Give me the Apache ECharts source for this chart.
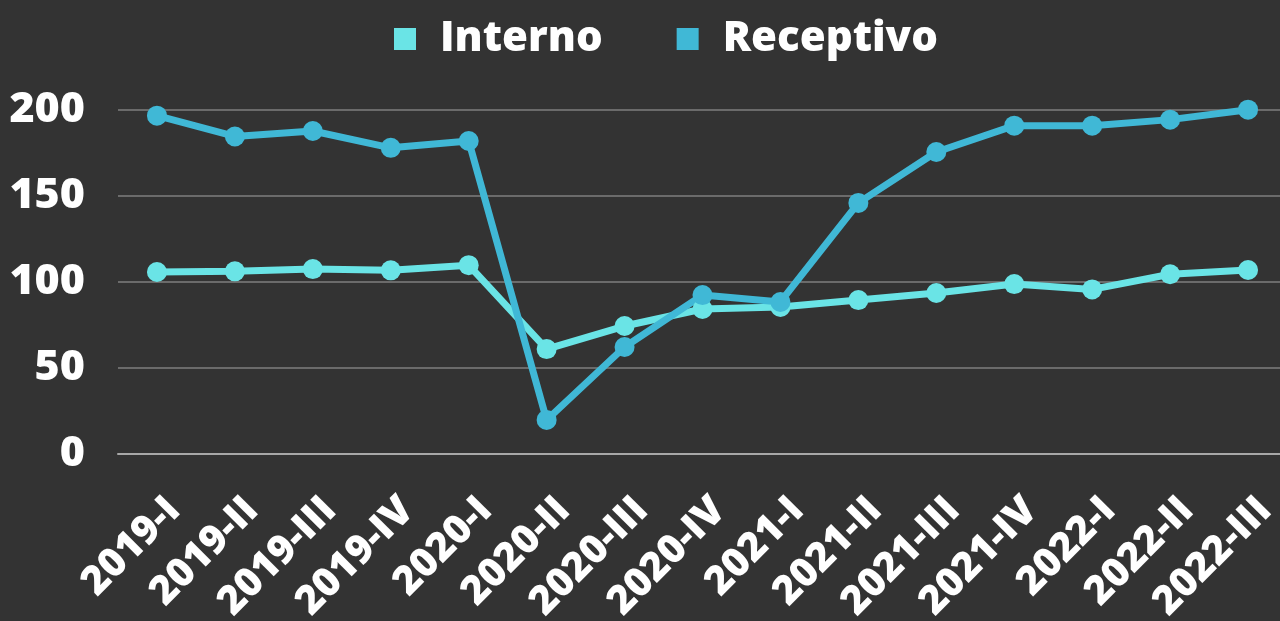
<!DOCTYPE html>
<html>
<head>
<meta charset="utf-8">
<script src="https://cdn.jsdelivr.net/npm/echarts@6/dist/echarts.min.js"></script>
<style>
  html, body { margin: 0; padding: 0; background: #333333; }
  #chart { width: 1280px; height: 621px; }
</style>
</head>
<body>
<div id="chart"></div>
<script>
const quarters = ['2019-I', '2019-II', '2019-III', '2019-IV', '2020-I', '2020-II', '2020-III', '2020-IV',
  '2021-I', '2021-II', '2021-III', '2021-IV', '2022-I', '2022-II', '2022-III']
const interno = [105.8, 106.2, 107.5, 106.8, 109.8, 61, 74.4, 84.3, 85.5, 89.5, 93.6, 98.8, 95.7, 104.5, 107]
const receptivo = [196.7, 184.6, 187.8, 178, 182, 19.8, 62.2, 92.4, 88.4, 146, 175.6, 190.9, 190.9, 194.4, 200.2]

const font = 'Open Sans'
// quarter index -> x; labels nudged a bit right of each point, like the original
const labelShift = 0.22
const labelPos = quarters.map((q, i) => i + labelShift)

const chart = echarts.init(document.getElementById('chart'), null, { renderer: 'canvas' })

chart.setOption({
  backgroundColor: '#333333',
  animation: false,
  legend: {
    top: 13,
    left: 389,
    itemWidth: 22,
    itemHeight: 22,
    itemGap: 74,
    icon: 'rect',
    textStyle: { color: '#ffffff', fontFamily: font, fontWeight: 800, fontSize: 42, padding: [0, 0, 0, 19] },
    data: ['Interno', 'Receptivo']
  },
  grid: { left: 118, right: 0, top: 110, bottom: 167, outerBoundsMode: 'none' },
  xAxis: {
    type: 'value',
    min: -0.5,
    max: 14.41,
    splitLine: { show: false },
    axisLine: { show: true, onZero: false, lineStyle: { color: '#a8a8a8', width: 2 } },
    axisTick: { show: false },
    axisLabel: {
      customValues: labelPos,
      formatter: (v) => quarters[Math.round(v - labelShift)],
      color: '#ffffff', fontFamily: font, fontWeight: 800, fontSize: 40,
      rotate: 45, margin: 50
    }
  },
  yAxis: {
    type: 'value',
    min: 0,
    max: 200,
    interval: 50,
    axisLine: { show: false },
    axisTick: { show: false },
    splitLine: { lineStyle: { color: '#6b6b6b', width: 2 } },
    axisLabel: { color: '#ffffff', fontFamily: font, fontWeight: 800, fontSize: 43, margin: 33 }
  },
  series: [
    {
      name: 'Interno', type: 'line', data: interno.map((v, i) => [i, v]),
      color: '#6ae4e6', clip: false,
      symbol: 'circle', symbolSize: 20,
      lineStyle: { width: 7 }
    },
    {
      name: 'Receptivo', type: 'line', data: receptivo.map((v, i) => [i, v]),
      color: '#40b8d6', clip: false,
      symbol: 'circle', symbolSize: 20,
      lineStyle: { width: 7 }
    }
  ]
})
</script>
</body>
</html>
